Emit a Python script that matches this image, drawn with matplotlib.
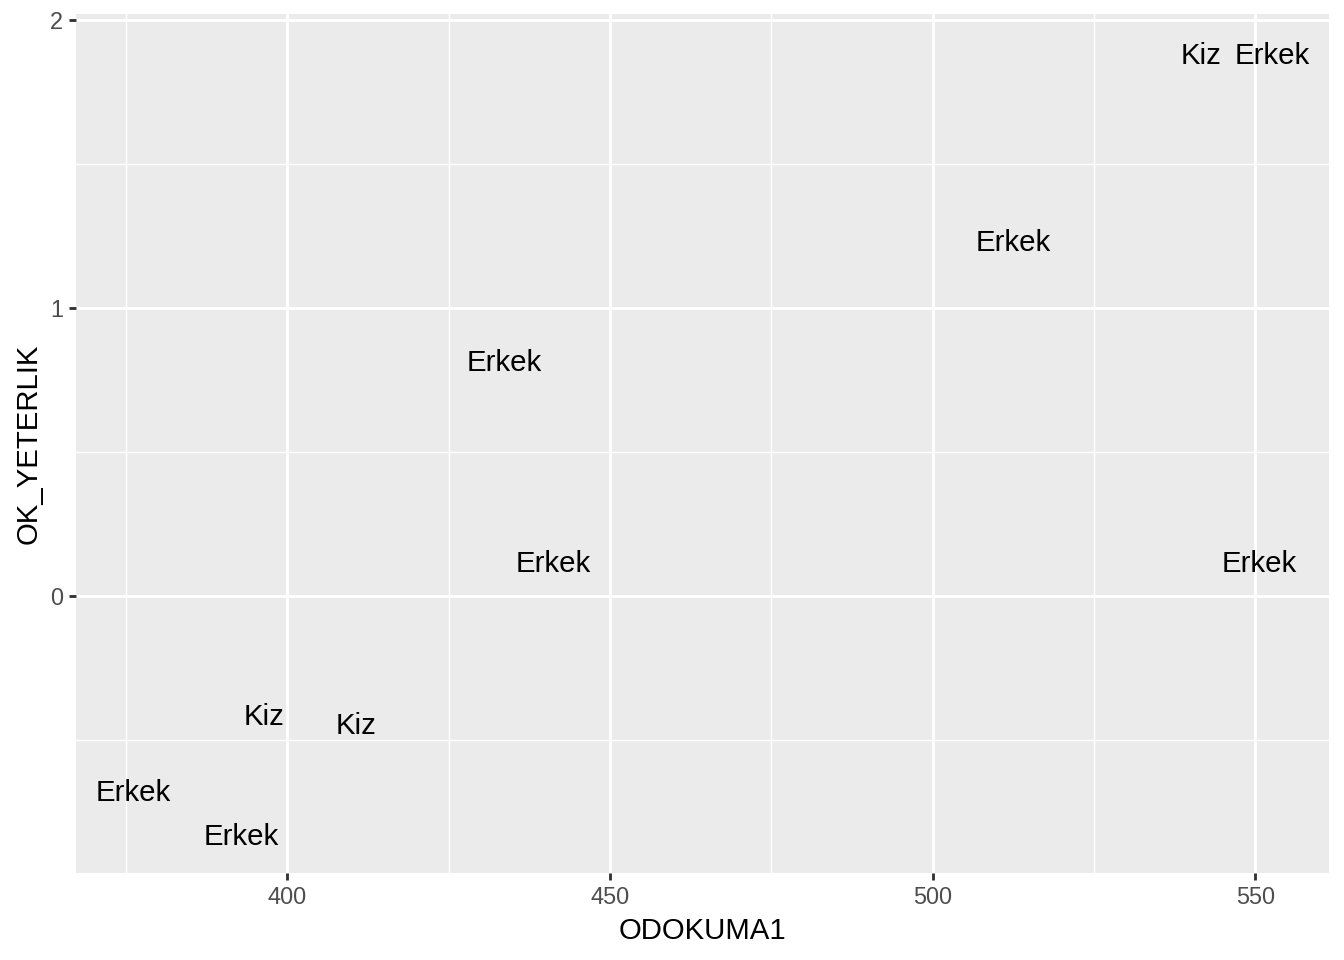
import matplotlib
matplotlib.use("Agg")
import matplotlib.pyplot as plt
import matplotlib.transforms as mtransforms

labels = ["Kiz", "Erkek", "Erkek", "Erkek", "Erkek", "Erkek", "Kiz", "Kiz", "Erkek", "Erkek"]
odokuma1 = [541.6, 552.6, 512.5, 433.7, 441.2, 550.6, 396.4, 410.7, 376.1, 392.9]
ok_yeterlik = [1.886, 1.886, 1.237, 0.819, 0.1215, 0.1215, -0.410, -0.444, -0.676, -0.828]

xticks = [400, 450, 500, 550]
yticks = [0, 1, 2]

plt.rcParams['font.family'] = ['Liberation Sans', 'DejaVu Sans']

DPI = 192
fig = plt.figure(figsize=(7, 5), dpi=DPI)
ax = fig.add_axes([76/1344, 1 - 873/960, (1329-76)/1344, (873-14)/960])
ax.set_facecolor('#EBEBEB')

xmin, xmax = min(odokuma1), max(odokuma1)
ymin, ymax = min(ok_yeterlik), max(ok_yeterlik)
dx = (xmax - xmin) * 0.05
dy = (ymax - ymin) * 0.05
ax.set_xlim(xmin - dx, xmax + dx)
ax.set_ylim(ymin - dy, ymax + dy)

ax.set_xticks(xticks)
ax.set_yticks(yticks)
ax.set_xticklabels([str(v) for v in xticks])
ax.set_yticklabels([str(v) for v in yticks])
ax.set_xticks([375, 425, 475, 525], minor=True)
ax.set_yticks([-0.5, 0.5, 1.5], minor=True)

ax.grid(which='major', color='white', linewidth=1.07)
ax.grid(which='minor', color='white', linewidth=0.53)
ax.set_axisbelow(True)
for s in ax.spines.values():
    s.set_visible(False)
ax.tick_params(which='major', length=2.75, width=1.07, color='#333333',
               labelsize=8.8, labelcolor='#4D4D4D', pad=2.2)
ax.tick_params(which='minor', length=0)

# ggplot-like vertical centring: baseline sits ~half cap height below anchor
off = mtransforms.ScaledTranslation(0, -11.0 / DPI, fig.dpi_scale_trans)
for lab, x, y in zip(labels, odokuma1, ok_yeterlik):
    ax.text(x, y, lab, ha='center', va='baseline', fontsize=11, color='black',
            transform=ax.transData + off)

ax.set_xlabel('ODOKUMA1', fontsize=11, labelpad=2.75)
ax.set_ylabel('OK_YETERLIK', fontsize=11, labelpad=2.75)

fig.savefig('out.png', dpi=DPI, facecolor='white')
